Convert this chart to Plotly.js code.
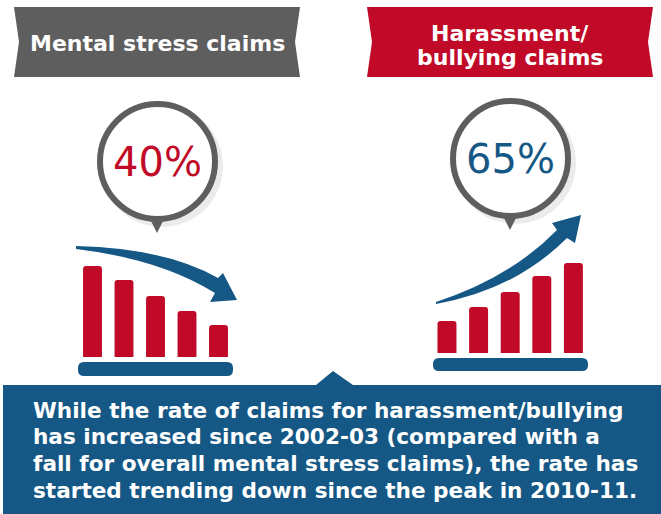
<!DOCTYPE html>
<html>
<head>
<meta charset="utf-8">
<script src="https://cdn.plot.ly/plotly-3.0.1.min.js"></script>
<style>
  html, body { margin: 0; padding: 0; background: #fff; }
  #chart { width: 661px; height: 514px; }
</style>
</head>
<body>
<div id="chart"></div>
<script>
// bar heights (relative units)
var periods = [1, 2, 3, 4, 5];
var stressBars = [91, 77, 61, 46, 32];
var bullyBars = [32, 46, 61, 77, 90];
var stressChange = "40%";
var bullyChange = "65%";
var noteLines = [
    "While the rate of claims for harassment/bullying",
    "has increased since 2002-03 (compared with a",
    "fall for overall mental stress claims), the rate has",
    "started trending down since the peak in 2010-11."
];

var red = "#c00a27";
var blue = "#155885";
var grey = "#5e5e5e";
var font = "DejaVu Sans";

var traces = [
    {x: periods, y: stressBars, type: "bar", xaxis: "x", yaxis: "y",
     marker: {color: red, cornerradius: 3}, hoverinfo: "none"},
    {x: periods, y: bullyBars, type: "bar", xaxis: "x2", yaxis: "y2",
     marker: {color: red, cornerradius: 3}, hoverinfo: "none"}
];

var hidden = {visible: false, fixedrange: true};

// x3/y3 is a pixel canvas over the whole page, used for the decoration
var shapes = [
    // banners
    {type: "path", path: "M14,7 L300,7 L295,42 L300,77 L14,77 L19,42 Z",
     fillcolor: grey, line: {width: 0}},
    {type: "path", path: "M367,7 L653,7 L648,42 L653,77 L367,77 L372,42 Z",
     fillcolor: red, line: {width: 0}},
    // bubble shadows
    {type: "circle", x0: 101, y0: 105, x1: 223, y1: 227,
     fillcolor: "rgba(0,0,0,0.08)", line: {width: 0}},
    {type: "circle", x0: 454, y0: 102, x1: 576, y1: 224,
     fillcolor: "rgba(0,0,0,0.08)", line: {width: 0}},
    // bubble pointers
    {type: "path", path: "M149,217 L165,217 L157,233 Z", fillcolor: grey, line: {width: 0}},
    {type: "path", path: "M502,214 L518,214 L510,230 Z", fillcolor: grey, line: {width: 0}},
    // bubbles
    {type: "circle", x0: 100, y0: 104, x1: 215, y1: 219,
     fillcolor: "#fff", line: {color: grey, width: 6}},
    {type: "circle", x0: 453, y0: 101, x1: 568, y1: 216,
     fillcolor: "#fff", line: {color: grey, width: 6}},
    // arrows
    {type: "path",
     path: "M76,246 Q165,248 218,278 L223,273 L237,300 L210,302 L215,293 Q160,259 76,249 Z",
     fillcolor: blue, line: {width: 0}},
    {type: "path",
     path: "M436,304 Q515,290 567,238 L575,243 L581,215 L552,223 L557,230 Q510,278 436,302 Z",
     fillcolor: blue, line: {width: 0}},
    // bar bases
    {type: "path",
     path: "M84,362 L227,362 Q233,362 233,368 L233,370 Q233,376 227,376 L84,376 Q78,376 78,370 L78,368 Q78,362 84,362 Z",
     fillcolor: blue, line: {width: 0}},
    {type: "path",
     path: "M439,358 L582,358 Q588,358 588,364 L588,365 Q588,371 582,371 L439,371 Q433,371 433,365 L433,364 Q433,358 439,358 Z",
     fillcolor: blue, line: {width: 0}},
    // bottom box with pointer
    {type: "path", path: "M3,385 L316,385 L333,371 L353,385 L661,385 L661,514 L3,514 Z",
     fillcolor: blue, line: {width: 0}}
];
shapes.forEach(function (s) { s.xref = "x3"; s.yref = "y3"; s.layer = "below"; });

var bannerFont = {family: font, size: 22, color: "#fff", weight: 700};
var annotations = [
    {x: 157, y: 43, text: "Mental stress claims", font: bannerFont},
    {x: 510, y: 33, text: "Harassment/", font: bannerFont},
    {x: 510, y: 57, text: "bullying claims", font: bannerFont},
    {x: 157.5, y: 162, text: stressChange,
     font: {family: font, size: 40, color: red}},
    {x: 510.5, y: 159, text: bullyChange,
     font: {family: font, size: 40, color: blue}}
];
noteLines.forEach(function (line, i) {
    annotations.push({x: 31, y: 410 + i * 26.8, xanchor: "left", text: line,
        font: {family: font, size: 21.6, color: "#fff", weight: 700}});
});
annotations.forEach(function (a) {
    a.xref = "x3"; a.yref = "y3"; a.showarrow = false;
    if (!a.xanchor) a.xanchor = "center";
    a.yanchor = "middle";
});

var layout = {
    width: 661,
    height: 514,
    margin: {l: 0, r: 0, t: 0, b: 0},
    paper_bgcolor: "#fff",
    plot_bgcolor: "rgba(0,0,0,0)",
    showlegend: false,
    bargap: 0.4,
    xaxis: Object.assign({domain: [0.1161, 0.3544], range: [0.5, 5.5]}, hidden),
    yaxis: Object.assign({domain: [0.3054, 0.5], range: [0, 100]}, hidden),
    xaxis2: Object.assign({domain: [0.6523, 0.8914], range: [0.5, 5.5]}, hidden),
    yaxis2: Object.assign({domain: [0.3132, 0.5078], range: [0, 100]}, hidden),
    xaxis3: Object.assign({domain: [0, 1], range: [0, 661]}, hidden),
    yaxis3: Object.assign({domain: [0, 1], range: [514, 0]}, hidden),
    shapes: shapes,
    annotations: annotations
};

Plotly.newPlot("chart", traces, layout, {staticPlot: true, displayModeBar: false});
</script>
</body>
</html>
